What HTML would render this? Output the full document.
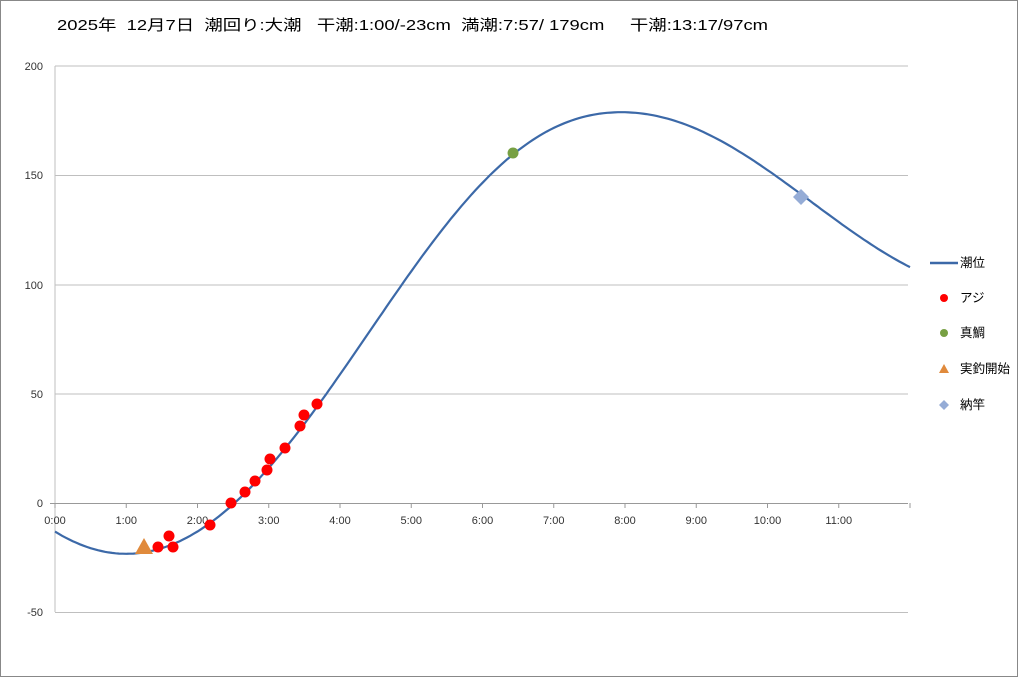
<!DOCTYPE html>
<html><head><meta charset="utf-8"><style>
body{margin:0;background:#fff}
svg{display:block;font-family:"Liberation Sans","Noto Sans CJK JP",sans-serif}
</style></head><body>
<svg width="1018" height="677" viewBox="0 0 1018 677">
<rect x="0.5" y="0.5" width="1017" height="676" fill="#fff" stroke="#888"/>
<text x="57" y="30" font-size="15" fill="#000" style="white-space:pre" textLength="711" lengthAdjust="spacingAndGlyphs">2025年  12月7日  潮回り:大潮   干潮:1:00/-23cm  満潮:7:57/ 179cm     干潮:13:17/97cm</text>
<g stroke="#bfbfbf" stroke-width="1">
<line x1="55" y1="66" x2="908" y2="66"/>
<line x1="55" y1="175.5" x2="908" y2="175.5"/>
<line x1="55" y1="285" x2="908" y2="285"/>
<line x1="55" y1="394" x2="908" y2="394"/>
<line x1="55" y1="612.5" x2="908" y2="612.5"/>
<line x1="55" y1="66" x2="55" y2="612"/>
</g>
<line x1="50" y1="503.5" x2="908" y2="503.5" stroke="#999"/>
<g stroke="#999" id="ticks"></g>
<g font-size="11" fill="#333" text-anchor="end">
<text x="43" y="70">200</text><text x="43" y="179">150</text><text x="43" y="289">100</text>
<text x="43" y="398">50</text><text x="43" y="507">0</text><text x="43" y="616">-50</text>
</g>
<g font-size="11" fill="#333" text-anchor="middle" id="xl"></g>
<path id="curve" fill="none" stroke="#3c69a8" stroke-width="2.2"/>
<g fill="#ff0000">
<circle cx="158" cy="547" r="5.5"/><circle cx="169" cy="536" r="5.5"/><circle cx="173" cy="547" r="5.5"/>
<circle cx="210" cy="525" r="5.5"/><circle cx="231" cy="503" r="5.5"/><circle cx="245" cy="492" r="5.5"/>
<circle cx="255" cy="481" r="5.5"/><circle cx="267" cy="470" r="5.5"/><circle cx="270" cy="459" r="5.5"/>
<circle cx="285" cy="448" r="5.5"/><circle cx="300" cy="426" r="5.5"/><circle cx="304" cy="415" r="5.5"/>
<circle cx="317" cy="404" r="5.5"/>
</g>
<circle cx="513" cy="153" r="5.5" fill="#77a043"/>
<polygon points="144,538 153,554 135,554" fill="#e08a3c"/>
<polygon points="801,189 809,197 801,205 793,197" fill="#95acd6"/>
<line x1="930" y1="263" x2="958" y2="263" stroke="#3c69a8" stroke-width="2.5"/>
<circle cx="944" cy="298" r="4" fill="#ff0000"/>
<circle cx="944" cy="333" r="4" fill="#77a043"/>
<polygon points="944,364 949,373 939,373" fill="#e08a3c"/>
<polygon points="944,400 949,405 944,410 939,405" fill="#95acd6"/>
<g font-size="12.5" fill="#000">
<text x="960" y="267">潮位</text><text x="960" y="302">アジ</text><text x="960" y="337">真鯛</text>
<text x="960" y="373">実釣開始</text><text x="960" y="409">納竿</text>
</g>
</svg>
<script>
var X=function(t){return 55+t*71.25},Y=function(v){return 503.5-v*2.186};
var d="";
for(var i=0;i<=240;i++){var t=i*12/240,v;
if(t<=7.95){var s=(t-1)/6.95;var w=s>0?s+0.18*s*s*s*(1-s):s;v=78-101*Math.cos(Math.PI*w);}else v=138+41*Math.cos(Math.PI*(t-7.95)/5.33);
d+=(i?"L":"M")+X(t).toFixed(1)+","+Y(v).toFixed(1);}
document.getElementById("curve").setAttribute("d",d);
var tk="",xl="";
for(var h=0;h<12;h++){var x=X(h);tk+='<line x1="'+x+'" y1="503" x2="'+x+'" y2="508"/>';
xl+='<text x="'+x+'" y="524">'+h+':00</text>';}
tk+='<line x1="'+X(12)+'" y1="503" x2="'+X(12)+'" y2="508"/>';
document.getElementById("ticks").innerHTML=tk;document.getElementById("xl").innerHTML=xl;
</script>
</body></html>
